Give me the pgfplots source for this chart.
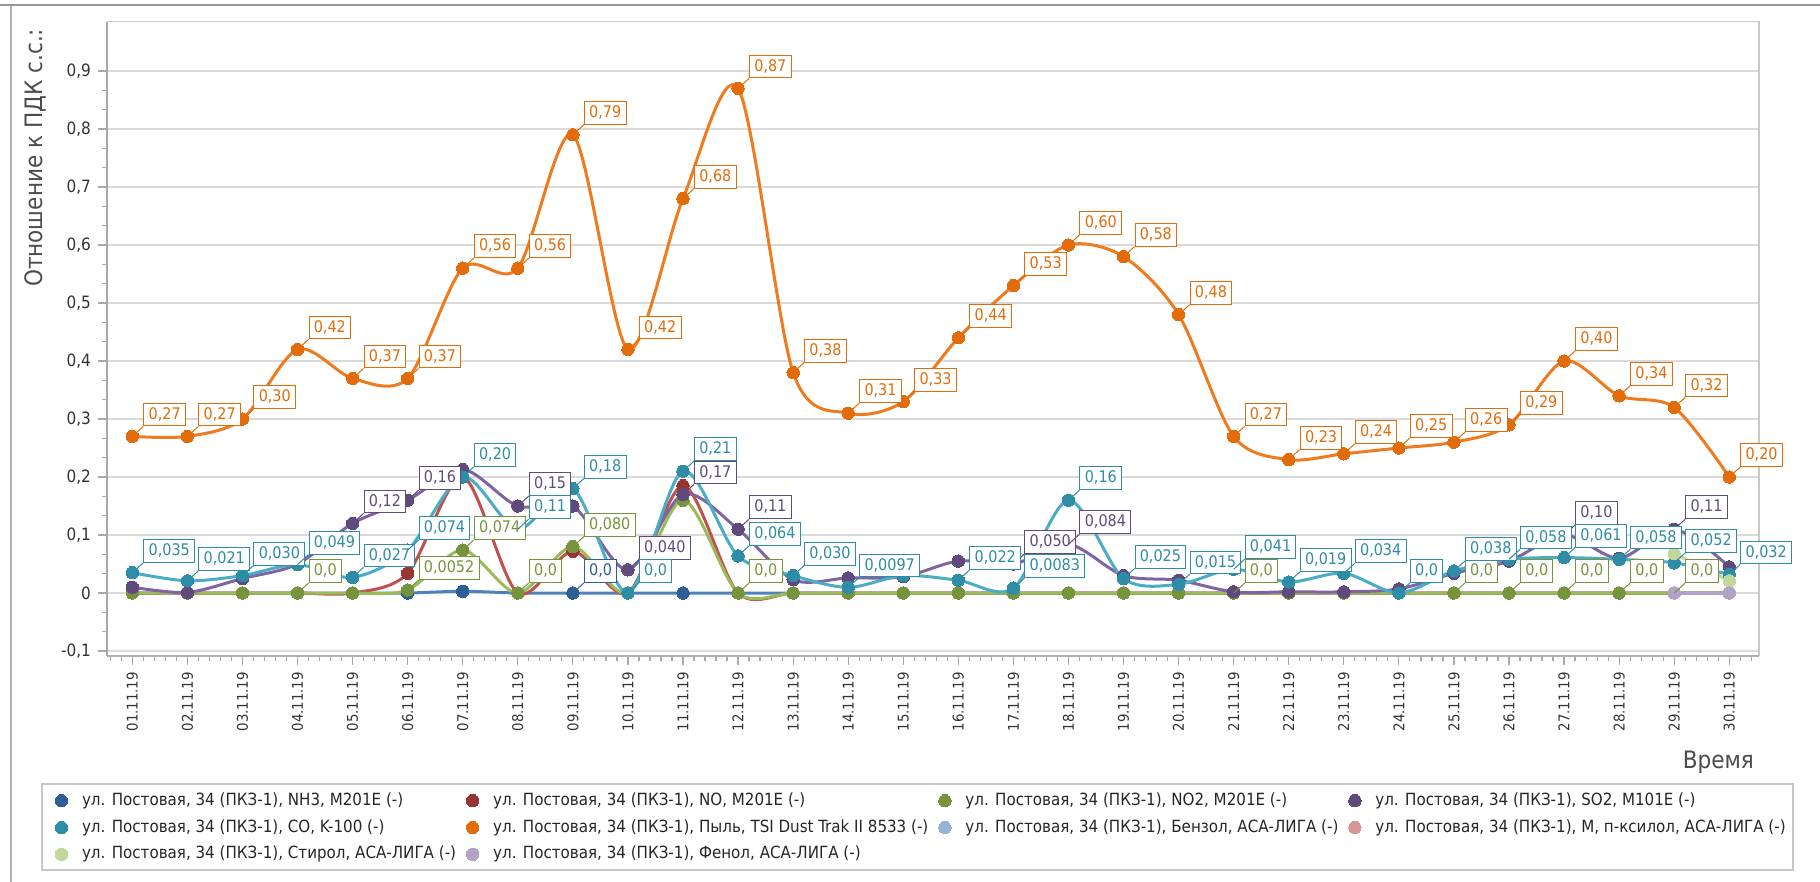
\documentclass[border=0pt]{standalone}
\usepackage{pgfplots}
\usepackage{pgfplotstable}
\pgfplotsset{compat=1.18}
\usepackage{fontspec}
\setmainfont{DejaVu Sans Condensed}
\newcommand\lfont{\fontsize{8}{9.6}\selectfont}
\newcommand\yfont{\fontsize{8.5}{10}\selectfont}
\newcommand\xfont{\fontsize{7.4}{9}\selectfont}
\newcommand\gfont{\fontsize{8.4}{10}\selectfont}
\newcommand\bfont{\fontsize{12}{14}\selectfont}
\definecolor{oL}{HTML}{F07A1E}\definecolor{oD}{HTML}{E36C0A}
\definecolor{tL}{HTML}{4BACC6}\definecolor{tD}{HTML}{2E8CA6}
\definecolor{pL}{HTML}{8064A2}\definecolor{pD}{HTML}{604A7B}
\definecolor{gL}{HTML}{9BBB59}\definecolor{gD}{HTML}{77933C}
\definecolor{rL}{HTML}{C0504D}\definecolor{rD}{HTML}{963634}
\definecolor{bL}{HTML}{4F81BD}\definecolor{bD}{HTML}{2F5D96}
\definecolor{lbL}{HTML}{95B3D7}\definecolor{pkL}{HTML}{D99694}
\definecolor{lgL}{HTML}{C3D69B}\definecolor{lvL}{HTML}{B3A2C7}
\definecolor{gridc}{HTML}{DADADA}\definecolor{axc}{HTML}{A8A8A8}

\pgfplotstableread{
x y lab
1 0.27 0,27
2 0.27 0,27
3 0.30 0,30
4 0.42 0,42
5 0.37 0,37
6 0.37 0,37
7 0.56 0,56
8 0.56 0,56
9 0.79 0,79
10 0.42 0,42
11 0.68 0,68
12 0.87 0,87
13 0.38 0,38
14 0.31 0,31
15 0.33 0,33
16 0.44 0,44
17 0.53 0,53
18 0.60 0,60
19 0.58 0,58
20 0.48 0,48
21 0.27 0,27
22 0.23 0,23
23 0.24 0,24
24 0.25 0,25
25 0.26 0,26
26 0.29 0,29
27 0.40 0,40
28 0.34 0,34
29 0.32 0,32
30 0.20 0,20
}\dust

\pgfplotstableread{
x y
1 0.035
2 0.021
3 0.030
4 0.049
5 0.027
6 0.074
7 0.20
8 0.11
9 0.18
10 0.0
11 0.21
12 0.064
13 0.030
14 0.0097
15 0.030
16 0.022
17 0.0083
18 0.16
19 0.025
20 0.015
21 0.041
22 0.019
23 0.034
24 0.0
25 0.038
26 0.058
27 0.061
28 0.058
29 0.052
30 0.032
}\co

\pgfplotstableread{
x y lab
1 0.035 0,035
2 0.021 0,021
3 0.030 0,030
4 0.049 0,049
5 0.027 0,027
6 0.074 0,074
7 0.20 0,20
8 0.11 0,11
9 0.18 0,18
10 0.0 0,0
11 0.21 0,21
12 0.064 0,064
13 0.030 0,030
14 0.0097 0,0097
16 0.022 0,022
17 0.0083 0,0083
18 0.16 0,16
19 0.025 0,025
20 0.015 0,015
21 0.041 0,041
22 0.019 0,019
23 0.034 0,034
24 0.0 0,0
25 0.038 0,038
26 0.058 0,058
27 0.061 0,061
28 0.058 0,058
29 0.052 0,052
30 0.032 0,032
}\colab

\pgfplotstableread{
x y
1 0.010
2 0.001
3 0.025
4 0.050
5 0.12
6 0.16
7 0.213
8 0.15
9 0.15
10 0.040
11 0.17
12 0.11
13 0.023
14 0.026
15 0.028
16 0.055
17 0.050
18 0.084
19 0.030
20 0.022
21 0.002
22 0.002
23 0.002
24 0.007
25 0.034
26 0.055
27 0.10
28 0.060
29 0.11
30 0.045
}\so

\pgfplotstableread{
x y lab
5 0.12 0,12
6 0.16 0,16
8 0.15 0,15
10 0.040 0,040
11 0.17 0,17
12 0.11 0,11
17 0.050 0,050
18 0.084 0,084
27 0.10 0,10
29 0.11 0,11
}\solab

\pgfplotstableread{
x y
1 0
2 0
3 0
4 0
5 0
6 0.0052
7 0.074
8 0
9 0.080
10 0
11 0.16
12 0
13 0
14 0
15 0
16 0
17 0
18 0
19 0
20 0
21 0
22 0
23 0
24 0
25 0
26 0
27 0
28 0
29 0
30 0
}\notwo

\pgfplotstableread{
x y lab
4 0 0,0
6 0.0052 0,0052
7 0.074 0,074
8 0 0,0
9 0.080 0,080
12 0 0,0
21 0 0,0
25 0 0,0
26 0 0,0
27 0 0,0
28 0 0,0
29 0 0,0
}\notwolab

\pgfplotstableread{
x y
1 0
2 0
3 0
4 0
5 0
6 0.034
7 0.20
8 0
9 0.072
10 0
11 0.185
12 0
13 0
14 0
15 0
16 0
17 0
18 0
19 0
20 0
21 0
22 0
23 0
24 0
25 0
26 0
27 0
28 0
29 0
30 0
}\no

\pgfplotstableread{
x y
1 0
2 0
3 0
4 0
5 0
6 0
7 0.003
8 0
9 0
10 0
11 0
12 0
13 0
14 0
15 0
16 0
17 0
18 0
19 0
20 0
21 0
22 0
23 0
24 0
25 0
26 0
27 0
28 0
29 0
30 0
}\nh

\pgfplotstableread{
x y lab
9 0 0,0
}\nhlab

\pgfplotsset{
  lab/.style={draw=none, mark=none, forget plot,
    point meta=explicit symbolic,
    nodes near coords={\pgfplotspointmeta},
    every node near coord/.append style={anchor=south west, xshift=5.5pt, yshift=5pt,
      draw=#1, fill=white, text=#1, font=\lfont, line width=0.5pt,
      inner xsep=2.4pt, inner ysep=2.2pt, text height=5.8pt, text depth=1.2pt,
      append after command={(\tikzlastnode.south west) edge[draw=#1, line width=0.5pt] ([shift={(-5.5pt,-5pt)}]\tikzlastnode.south west)}}},
  ser/.style 2 args={draw=#1, line width=1.5pt, smooth, tension=0.5, mark=*, mark size=3.1pt,
    mark options={draw=#2, fill=#2, line width=0pt, solid}},
}

\begin{document}
\begin{tikzpicture}
\begin{axis}[
  at={(0,0)}, anchor=south west,
  scale only axis, width=826pt, height=317.15pt,
  xmin=0.54, xmax=30.54, ymin=-0.1086, ymax=0.985,
  clip=false,
  axis line style={draw=none},
  xtick={1,...,30},
  xticklabels={01.11.19,02.11.19,03.11.19,04.11.19,05.11.19,06.11.19,07.11.19,08.11.19,09.11.19,10.11.19,11.11.19,12.11.19,13.11.19,14.11.19,15.11.19,16.11.19,17.11.19,18.11.19,19.11.19,20.11.19,21.11.19,22.11.19,23.11.19,24.11.19,25.11.19,26.11.19,27.11.19,28.11.19,29.11.19,30.11.19},
  minor xtick={0.6,0.8,...,30.6},
  xticklabel style={rotate=90, anchor=east, font=\xfont, text=black!80},
  ytick={-0.1,0,0.1,0.2,0.3,0.4,0.5,0.6,0.7,0.8,0.9},
  yticklabels={{-0,1},{0},{0,1},{0,2},{0,3},{0,4},{0,5},{0,6},{0,7},{0,8},{0,9}},
  minor y tick num=2,
  yticklabel style={font=\yfont, text=black!80},
  tick pos=left, tick align=outside,
  major tick length=4.5pt, minor tick length=2.5pt,
  tick style={draw=axc, line width=0.6pt},
  ymajorgrids, major grid style={draw=gridc, line width=0.7pt},
  xlabel={Время}, ylabel={Отношение к ПДК с.с.:},
  every axis x label/.style={at={(axis description cs:1.0012,-0.1671)}, anchor=east, font=\bfont, text=black!70},
  every axis y label/.style={at={(axis description cs:-0.0436,1.0)}, rotate=90, anchor=east, font=\bfont, text=black!70},
  legend columns=4, legend cell align=left,
  legend image code/.code={\path (0pt,0pt) (11pt,0pt); \draw[#1, sharp plot] plot coordinates {(3.5pt,0pt)};},
  legend style={draw=none, fill=none, font=\gfont, text=black!85,
    at={(axis description cs:-0.03269,-0.21236)}, anchor=north west,
    inner sep=0pt, outer sep=0pt, row sep=3.4pt,
    nodes={inner sep=1pt, text height=6.3pt, text depth=1.7pt},
    /tikz/every even column/.append style={column sep=3pt},
    /tikz/every odd column/.append style={column sep=1pt}},
]
\draw[gridc!80!gray, line width=0.8pt] (rel axis cs:0,1) -- (rel axis cs:1,1) -- (rel axis cs:1,0);
\draw[axc, line width=0.7pt] (rel axis cs:0,0) -- (rel axis cs:0,1);
\draw[axc!90, line width=1.4pt] (rel axis cs:0,0) -- (rel axis cs:1,0);

\addplot[ser={bL}{bD}] table[x=x,y=y] \nh;
\addlegendentry{ул. Постовая, 34 (ПКЗ-1), NH3, M201E (-)}
\addplot[ser={rL}{rD}] table[x=x,y=y] \no;
\addlegendentry{ул. Постовая, 34 (ПКЗ-1), NO, M201E (-)}
\addplot[ser={gL}{gD}] table[x=x,y=y] \notwo;
\addlegendentry{ул. Постовая, 34 (ПКЗ-1), NO2, M201E (-)}
\addplot[ser={pL}{pD}] table[x=x,y=y] \so;
\addlegendentry{ул. Постовая, 34 (ПКЗ-1), SO2, M101E (-)}
\addplot[ser={tL}{tD}] table[x=x,y=y] \co;
\addlegendentry{ул. Постовая, 34 (ПКЗ-1), CO, K-100 (-)}
\addplot[ser={oL}{oD}] table[x=x,y=y] \dust;
\addlegendentry{ул. Постовая, 34 (ПКЗ-1), Пыль, TSI Dust Trak II 8533 (-)}
\addplot[ser={lbL}{lbL}] coordinates {(29,0) (30,0)};
\addlegendentry{ул. Постовая, 34 (ПКЗ-1), Бензол, АСА-ЛИГА (-)}
\addplot[ser={pkL}{pkL}] coordinates {(29,0) (30,0)};
\addlegendentry{ул. Постовая, 34 (ПКЗ-1), М, п-ксилол, АСА-ЛИГА (-)}
\addplot[ser={lgL}{lgL}] coordinates {(29,0.068) (30,0.021)};
\addlegendentry{ул. Постовая, 34 (ПКЗ-1), Стирол, АСА-ЛИГА (-)}
\addplot[ser={lvL}{lvL}] coordinates {(29,0) (30,0)};
\addlegendentry{ул. Постовая, 34 (ПКЗ-1), Фенол, АСА-ЛИГА (-)}

\addplot[lab=bD] table[x=x,y=y,meta=lab] \nhlab;
\addplot[lab=gD] table[x=x,y=y,meta=lab] \notwolab;
\addplot[lab=pD] table[x=x,y=y,meta=lab] \solab;
\addplot[lab=tD] table[x=x,y=y,meta=lab] \colab;
\addplot[lab=oD] table[x=x,y=y,meta=lab] \dust;
\end{axis}
\draw[gray!60, line width=0.7pt] (-48pt,325.5pt) -- (-48pt,-113pt);
\draw[gray!80, line width=0.9pt] (-53.5pt,325.5pt) -- (856.5pt,325.5pt);
\draw[gray!45, line width=0.6pt] (-32.5pt,-64pt) rectangle (843pt,-107pt);
\pgfresetboundingbox
\path[use as bounding box] (-53.5pt,-113pt) rectangle (856.5pt,328pt);
\end{tikzpicture}
\end{document}
